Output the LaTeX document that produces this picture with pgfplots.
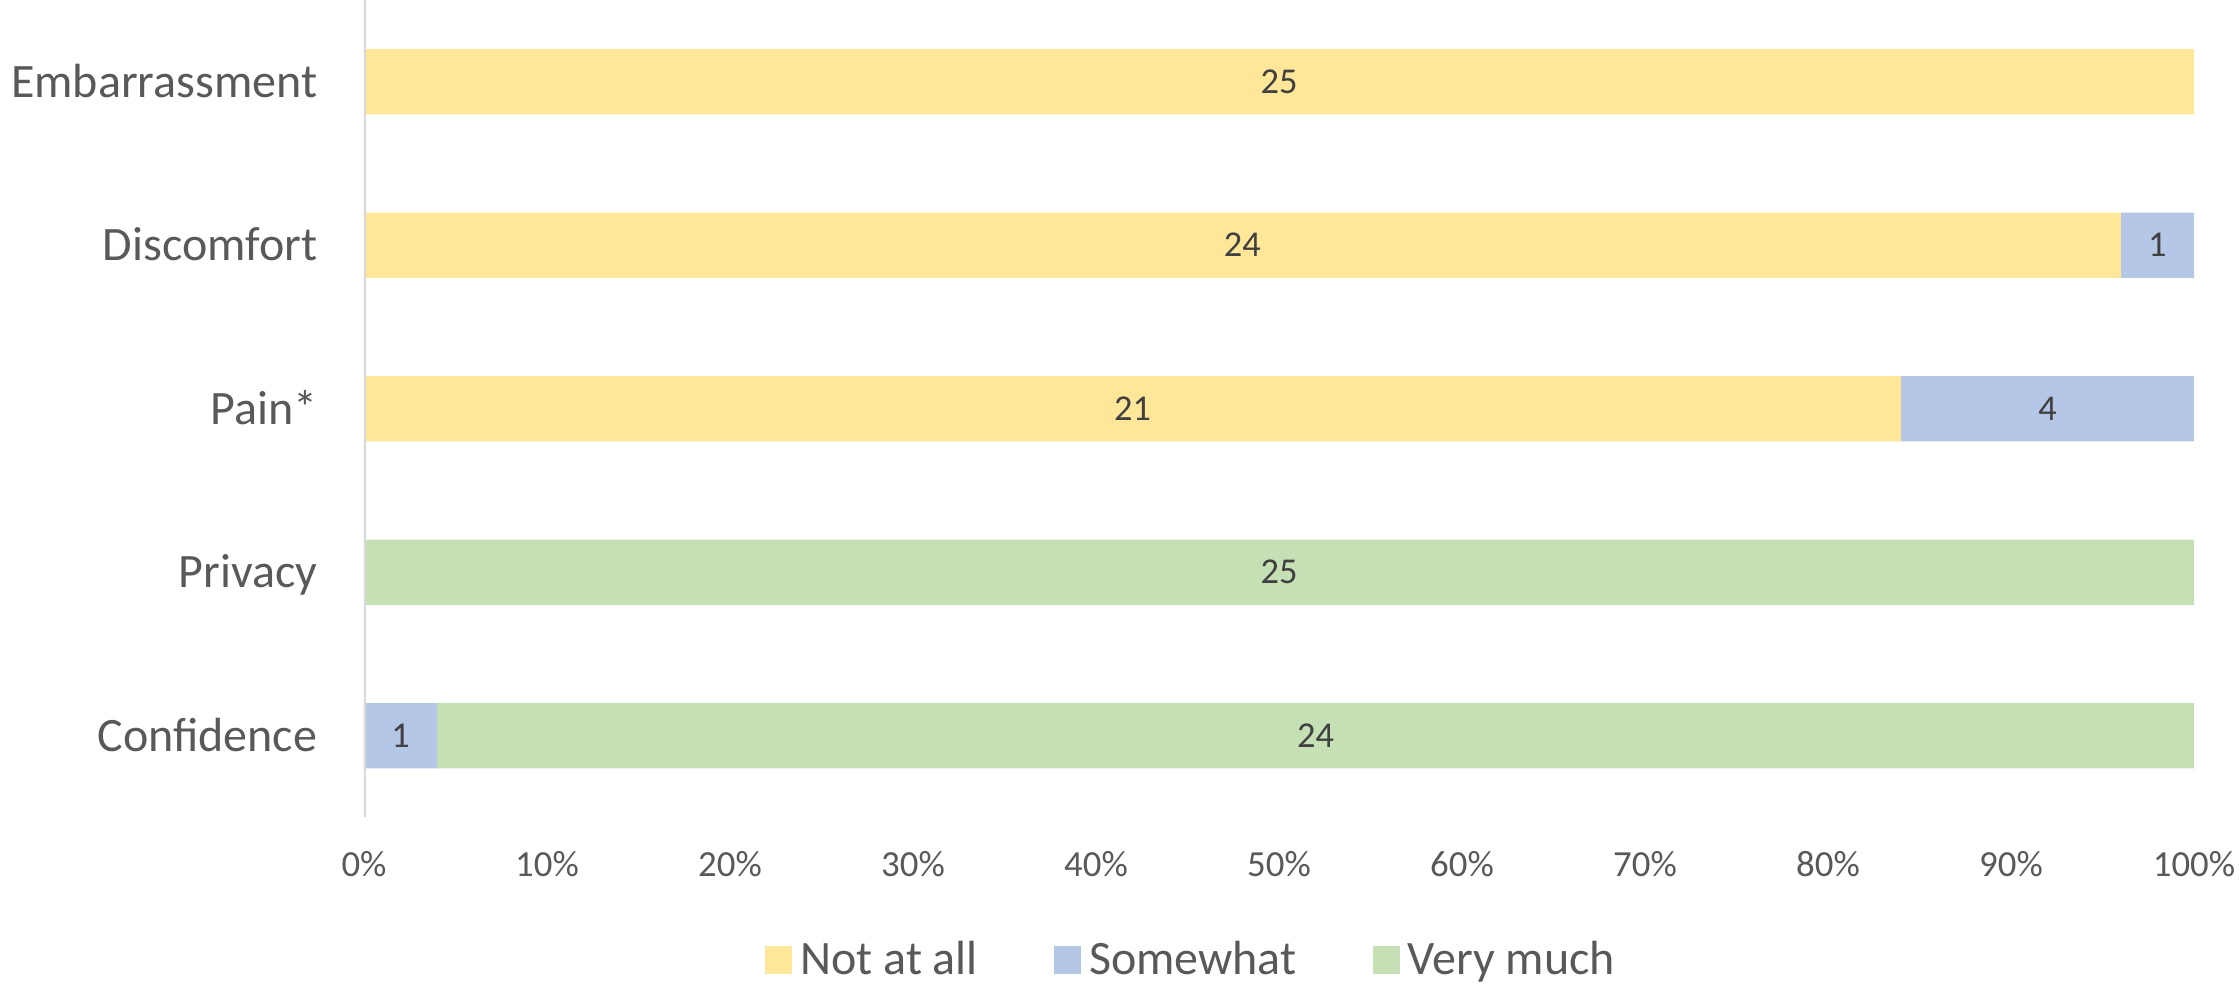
\documentclass[border=0pt]{standalone}
\usepackage{pgfplots}
\pgfplotsset{compat=1.18}
\usepackage{pgfplotstable}
\usepackage{fontspec}
\setmainfont{Carlito}
\definecolor{cyel}{HTML}{FFE699}
\definecolor{cblu}{HTML}{B4C7E7}
\definecolor{cgrn}{HTML}{C5E0B4}
\definecolor{ctxt}{HTML}{595959}
\definecolor{clab}{HTML}{404040}
\definecolor{cax}{HTML}{D9D9D9}

\pgfplotstableread{
y a b c
0 0 1 24
1 0 0 25
2 21 4 0
3 24 1 0
4 25 0 0
}\data

\begin{document}
\begin{tikzpicture}
\path[use as bounding box] (0,0) rectangle (559.75pt,246pt);
\begin{axis}[
  at={(91pt,246pt)}, anchor=north west,
  scale only axis, width=457.5pt, height=204.375pt,
  xbar stacked, bar width=0.4,
  xmin=0, xmax=100, ymin=-0.5, ymax=4.5,
  axis line style={draw=none},
  tick style={draw=none},
  major tick length=0pt,
  xtick={0,10,...,100},
  xticklabels={0\%,10\%,20\%,30\%,40\%,50\%,60\%,70\%,80\%,90\%,100\%},
  ytick={0,1,2,3,4},
  yticklabels={Confidence,Privacy,Pain*,Discomfort,Embarrassment},
  x tick label style={font=\fontsize{9.2}{11}\selectfont, text=ctxt, anchor=base, inner sep=0pt, yshift=-14.75pt},
  y tick label style={font=\fontsize{12}{14}\selectfont, text=ctxt, anchor=base east, inner sep=0pt, xshift=-11.5pt, yshift=-3.85pt},
  point meta=explicit,
  /pgf/number format/assume math mode=true,
  nodes near coords={\pgfmathfloatifflags{\pgfplotspointmeta}{0}{}{\pgfmathprintnumber{\pgfplotspointmeta}}},
  every node near coord/.append style={font=\fontsize{9.1}{11}\selectfont, text=clab, anchor=base, yshift=-2.9pt},
  legend style={at={(0.4536,0)}, anchor=center, yshift=-35.75pt, draw=none, fill=none,
    legend columns=3, font=\fontsize{12}{14}\selectfont, text=ctxt,
    /tikz/every even column/.append style={column sep=17pt}},
  legend image code/.code={\fill[#1] (0pt,-3.5pt) rectangle (6.75pt,3.5pt);},
]
\draw[cax, line width=0.8pt] (axis cs:0,-0.5) -- (axis cs:0,4.5);
\addplot[fill=cyel, draw=none] table[x expr=\thisrow{a}*4, y=y, meta=a] {\data};
\addplot[fill=cblu, draw=none] table[x expr=\thisrow{b}*4, y=y, meta=b] {\data};
\addplot[fill=cgrn, draw=none] table[x expr=\thisrow{c}*4, y=y, meta=c] {\data};
\legend{Not at all, Somewhat, Very much}
\end{axis}
\end{tikzpicture}
\end{document}
